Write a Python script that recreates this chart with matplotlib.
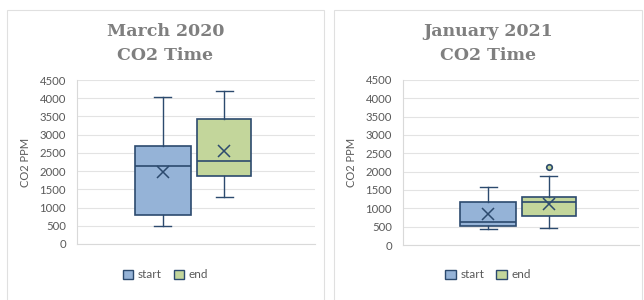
import matplotlib.pyplot as plt
from matplotlib.patches import Rectangle, Patch

# box statistics (CO2 PPM)
series = ["start", "end"]
titles = ["March 2020", "January 2021"]

mar_low = [500, 1300]
mar_q1 = [800, 1870]
mar_med = [2130, 2280]
mar_q3 = [2700, 3420]
mar_high = [4030, 4200]
mar_mean = [1970, 2550]
mar_fliers = [[], []]

jan_low = [450, 470]
jan_q1 = [520, 800]
jan_med = [620, 1160]
jan_q3 = [1170, 1320]
jan_high = [1570, 1880]
jan_mean = [840, 1120]
jan_fliers = [[], [2130]]

yticks = [0, 500, 1000, 1500, 2000, 2500, 3000, 3500, 4000, 4500]

fills = ["#95b3d7", "#c3d69b"]
edge = "#2c4a6e"
txt = "#595959"
plt.rcParams["font.family"] = ["Lato", "DejaVu Sans"]

fig = plt.figure(figsize=(6.44, 3.0), dpi=100)

# panel frames (open at the bottom, cut by the image edge)
for x0, x1 in [(7, 324), (334, 642)]:
    fig.patches.append(Rectangle((x0 / 644, -0.05), (x1 - x0) / 644, 1 - 10 / 300 + 0.05,
                                 transform=fig.transFigure, fill=False,
                                 edgecolor="#e0e0e0", lw=0.8))

panels = [
    (titles[0], [77, 315, 80, 244], 165.5,
     mar_low, mar_q1, mar_med, mar_q3, mar_high, mar_mean, mar_fliers),
    (titles[1], [403, 639, 80, 245], 488,
     jan_low, jan_q1, jan_med, jan_q3, jan_high, jan_mean, jan_fliers),
]

positions = [0.361, 0.618]
widths = [0.235, 0.227]

for title, (px0, px1, py0, py1), cx, lo, q1, med, q3, hi, mean, fl in panels:
    ax = fig.add_axes([px0 / 644, 1 - py1 / 300, (px1 - px0) / 644, (py1 - py0) / 300])
    stats = []
    for i in range(2):
        stats.append(dict(whislo=lo[i], q1=q1[i], med=med[i], q3=q3[i],
                          whishi=hi[i], mean=mean[i], fliers=fl[i], label=series[i]))
    bp = ax.bxp(stats, positions=positions, widths=widths, patch_artist=True,
                showmeans=True, showcaps=True,
                boxprops=dict(edgecolor=edge, lw=1.2),
                medianprops=dict(color=edge, lw=1.2),
                whiskerprops=dict(color=edge, lw=1.0),
                capprops=dict(color=edge, lw=1.0),
                meanprops=dict(marker="x", markeredgecolor=edge, markersize=8, mew=1.1),
                flierprops=dict(marker="o", markerfacecolor=fills[1], markeredgecolor=edge,
                                markersize=4, mew=1.2))
    for patch, c in zip(bp["boxes"], fills):
        patch.set_facecolor(c)
    for i, cap in enumerate(bp["caps"]):
        cap.set_xdata([positions[i // 2] - 0.036, positions[i // 2] + 0.036])

    ax.set_xlim(0, 1)
    ax.set_ylim(0, 4500)
    ax.set_yticks(yticks)
    ax.set_xticks([])
    ax.grid(axis="y", color="#e3e3e3", lw=0.8)
    ax.set_axisbelow(True)
    for s in ["top", "right"]:
        ax.spines[s].set_visible(False)
    ax.spines["left"].set_color("#d9d9d9")
    ax.spines["bottom"].set_color("#d9d9d9")
    ax.tick_params(axis="y", length=0, pad=8, labelsize=8.2, labelcolor=txt)
    ax.set_ylabel("CO2 PPM", fontsize=8, color=txt, labelpad=6)

    fig.text(cx / 644, 1 - 32 / 300, title, ha="center", va="center",
             family="DejaVu Serif", weight="bold", fontsize=12.5, color="#7f7f7f")
    fig.text(cx / 644, 1 - 56 / 300, "CO2 Time", ha="center", va="center",
             family="DejaVu Serif", weight="bold", fontsize=12.5, color="#7f7f7f")

    handles = [Patch(facecolor=fills[i], edgecolor=edge, label=series[i]) for i in range(2)]
    fig.legend(handles=handles, loc="center", bbox_to_anchor=(cx / 644, 1 - 275 / 300),
               ncol=2, frameon=False, fontsize=8.5, labelcolor=txt,
               handlelength=0.9, handleheight=0.9, handletextpad=0.4, columnspacing=1.0)

fig.savefig("out.png", dpi=100)
